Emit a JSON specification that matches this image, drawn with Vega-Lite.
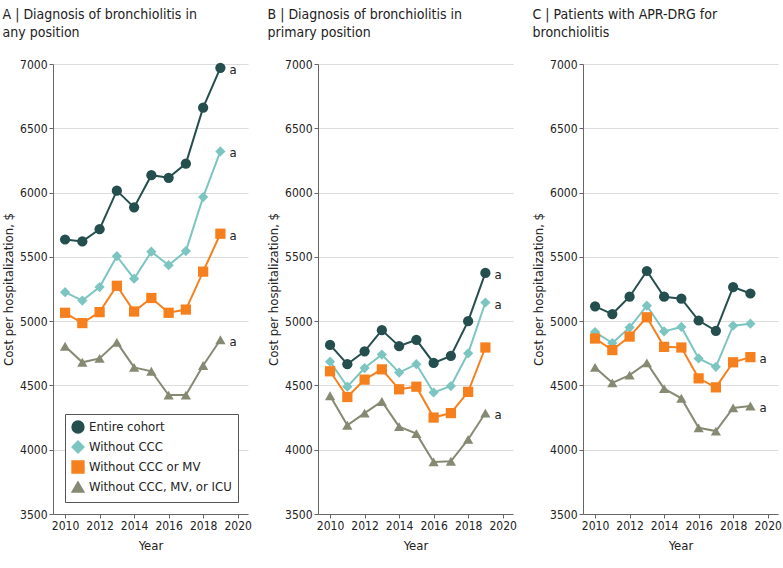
{
  "$schema": "https://vega.github.io/schema/vega-lite/v6.json",
  "padding": {"left": 2, "top": 8, "right": 2, "bottom": 2},
  "config": {
    "font": "DejaVu Sans Condensed, sans-serif",
    "view": {"stroke": null},
    "axis": {"labelFontSize": 12, "titleFontSize": 13, "titleFontWeight": "normal", "labelColor": "#222", "titleColor": "#222", "domainColor": "#666", "tickColor": "#666", "tickSize": 4, "labelPadding": 2},
    "title": {"fontSize": 14, "fontWeight": "normal", "anchor": "start", "frame": "bounds", "color": "#222", "offset": 18, "lineHeight": 18},
    "legend": {"labelFontSize": 13, "labelColor": "#222", "strokeColor": "#555", "fillColor": "white", "padding": 6, "symbolSize": 140, "rowPadding": 2},
    "concat": {"spacing": 15}
  },
  "datasets": {
    "d": [
      {"panel":"A","year":2010,"group":"Entire cohort","cost":5635,"sig":""},
      {"panel":"A","year":2011,"group":"Entire cohort","cost":5620,"sig":""},
      {"panel":"A","year":2012,"group":"Entire cohort","cost":5715,"sig":""},
      {"panel":"A","year":2013,"group":"Entire cohort","cost":6015,"sig":""},
      {"panel":"A","year":2014,"group":"Entire cohort","cost":5885,"sig":""},
      {"panel":"A","year":2015,"group":"Entire cohort","cost":6135,"sig":""},
      {"panel":"A","year":2016,"group":"Entire cohort","cost":6115,"sig":""},
      {"panel":"A","year":2017,"group":"Entire cohort","cost":6225,"sig":""},
      {"panel":"A","year":2018,"group":"Entire cohort","cost":6660,"sig":""},
      {"panel":"A","year":2019,"group":"Entire cohort","cost":6970,"sig":"a"},
      {"panel":"A","year":2010,"group":"Without CCC","cost":5225,"sig":""},
      {"panel":"A","year":2011,"group":"Without CCC","cost":5160,"sig":""},
      {"panel":"A","year":2012,"group":"Without CCC","cost":5265,"sig":""},
      {"panel":"A","year":2013,"group":"Without CCC","cost":5505,"sig":""},
      {"panel":"A","year":2014,"group":"Without CCC","cost":5330,"sig":""},
      {"panel":"A","year":2015,"group":"Without CCC","cost":5540,"sig":""},
      {"panel":"A","year":2016,"group":"Without CCC","cost":5435,"sig":""},
      {"panel":"A","year":2017,"group":"Without CCC","cost":5545,"sig":""},
      {"panel":"A","year":2018,"group":"Without CCC","cost":5965,"sig":""},
      {"panel":"A","year":2019,"group":"Without CCC","cost":6320,"sig":"a"},
      {"panel":"A","year":2010,"group":"Without CCC or MV","cost":5065,"sig":""},
      {"panel":"A","year":2011,"group":"Without CCC or MV","cost":4985,"sig":""},
      {"panel":"A","year":2012,"group":"Without CCC or MV","cost":5070,"sig":""},
      {"panel":"A","year":2013,"group":"Without CCC or MV","cost":5275,"sig":""},
      {"panel":"A","year":2014,"group":"Without CCC or MV","cost":5075,"sig":""},
      {"panel":"A","year":2015,"group":"Without CCC or MV","cost":5180,"sig":""},
      {"panel":"A","year":2016,"group":"Without CCC or MV","cost":5065,"sig":""},
      {"panel":"A","year":2017,"group":"Without CCC or MV","cost":5090,"sig":""},
      {"panel":"A","year":2018,"group":"Without CCC or MV","cost":5385,"sig":""},
      {"panel":"A","year":2019,"group":"Without CCC or MV","cost":5680,"sig":"a"},
      {"panel":"A","year":2010,"group":"Without CCC, MV, or ICU","cost":4805,"sig":""},
      {"panel":"A","year":2011,"group":"Without CCC, MV, or ICU","cost":4680,"sig":""},
      {"panel":"A","year":2012,"group":"Without CCC, MV, or ICU","cost":4710,"sig":""},
      {"panel":"A","year":2013,"group":"Without CCC, MV, or ICU","cost":4835,"sig":""},
      {"panel":"A","year":2014,"group":"Without CCC, MV, or ICU","cost":4640,"sig":""},
      {"panel":"A","year":2015,"group":"Without CCC, MV, or ICU","cost":4610,"sig":""},
      {"panel":"A","year":2016,"group":"Without CCC, MV, or ICU","cost":4425,"sig":""},
      {"panel":"A","year":2017,"group":"Without CCC, MV, or ICU","cost":4425,"sig":""},
      {"panel":"A","year":2018,"group":"Without CCC, MV, or ICU","cost":4655,"sig":""},
      {"panel":"A","year":2019,"group":"Without CCC, MV, or ICU","cost":4855,"sig":"a"},

      {"panel":"B","year":2010,"group":"Entire cohort","cost":4815,"sig":""},
      {"panel":"B","year":2011,"group":"Entire cohort","cost":4665,"sig":""},
      {"panel":"B","year":2012,"group":"Entire cohort","cost":4765,"sig":""},
      {"panel":"B","year":2013,"group":"Entire cohort","cost":4930,"sig":""},
      {"panel":"B","year":2014,"group":"Entire cohort","cost":4805,"sig":""},
      {"panel":"B","year":2015,"group":"Entire cohort","cost":4855,"sig":""},
      {"panel":"B","year":2016,"group":"Entire cohort","cost":4675,"sig":""},
      {"panel":"B","year":2017,"group":"Entire cohort","cost":4730,"sig":""},
      {"panel":"B","year":2018,"group":"Entire cohort","cost":5000,"sig":""},
      {"panel":"B","year":2019,"group":"Entire cohort","cost":5375,"sig":"a"},
      {"panel":"B","year":2010,"group":"Without CCC","cost":4685,"sig":""},
      {"panel":"B","year":2011,"group":"Without CCC","cost":4490,"sig":""},
      {"panel":"B","year":2012,"group":"Without CCC","cost":4635,"sig":""},
      {"panel":"B","year":2013,"group":"Without CCC","cost":4740,"sig":""},
      {"panel":"B","year":2014,"group":"Without CCC","cost":4600,"sig":""},
      {"panel":"B","year":2015,"group":"Without CCC","cost":4665,"sig":""},
      {"panel":"B","year":2016,"group":"Without CCC","cost":4445,"sig":""},
      {"panel":"B","year":2017,"group":"Without CCC","cost":4495,"sig":""},
      {"panel":"B","year":2018,"group":"Without CCC","cost":4750,"sig":""},
      {"panel":"B","year":2019,"group":"Without CCC","cost":5145,"sig":"a"},
      {"panel":"B","year":2010,"group":"Without CCC or MV","cost":4610,"sig":""},
      {"panel":"B","year":2011,"group":"Without CCC or MV","cost":4410,"sig":""},
      {"panel":"B","year":2012,"group":"Without CCC or MV","cost":4545,"sig":""},
      {"panel":"B","year":2013,"group":"Without CCC or MV","cost":4625,"sig":""},
      {"panel":"B","year":2014,"group":"Without CCC or MV","cost":4470,"sig":""},
      {"panel":"B","year":2015,"group":"Without CCC or MV","cost":4490,"sig":""},
      {"panel":"B","year":2016,"group":"Without CCC or MV","cost":4250,"sig":""},
      {"panel":"B","year":2017,"group":"Without CCC or MV","cost":4285,"sig":""},
      {"panel":"B","year":2018,"group":"Without CCC or MV","cost":4450,"sig":""},
      {"panel":"B","year":2019,"group":"Without CCC or MV","cost":4795,"sig":""},
      {"panel":"B","year":2010,"group":"Without CCC, MV, or ICU","cost":4420,"sig":""},
      {"panel":"B","year":2011,"group":"Without CCC, MV, or ICU","cost":4190,"sig":""},
      {"panel":"B","year":2012,"group":"Without CCC, MV, or ICU","cost":4285,"sig":""},
      {"panel":"B","year":2013,"group":"Without CCC, MV, or ICU","cost":4375,"sig":""},
      {"panel":"B","year":2014,"group":"Without CCC, MV, or ICU","cost":4180,"sig":""},
      {"panel":"B","year":2015,"group":"Without CCC, MV, or ICU","cost":4125,"sig":""},
      {"panel":"B","year":2016,"group":"Without CCC, MV, or ICU","cost":3905,"sig":""},
      {"panel":"B","year":2017,"group":"Without CCC, MV, or ICU","cost":3910,"sig":""},
      {"panel":"B","year":2018,"group":"Without CCC, MV, or ICU","cost":4080,"sig":""},
      {"panel":"B","year":2019,"group":"Without CCC, MV, or ICU","cost":4285,"sig":"a"},

      {"panel":"C","year":2010,"group":"Entire cohort","cost":5115,"sig":""},
      {"panel":"C","year":2011,"group":"Entire cohort","cost":5055,"sig":""},
      {"panel":"C","year":2012,"group":"Entire cohort","cost":5190,"sig":""},
      {"panel":"C","year":2013,"group":"Entire cohort","cost":5390,"sig":""},
      {"panel":"C","year":2014,"group":"Entire cohort","cost":5190,"sig":""},
      {"panel":"C","year":2015,"group":"Entire cohort","cost":5175,"sig":""},
      {"panel":"C","year":2016,"group":"Entire cohort","cost":5005,"sig":""},
      {"panel":"C","year":2017,"group":"Entire cohort","cost":4925,"sig":""},
      {"panel":"C","year":2018,"group":"Entire cohort","cost":5265,"sig":""},
      {"panel":"C","year":2019,"group":"Entire cohort","cost":5215,"sig":""},
      {"panel":"C","year":2010,"group":"Without CCC","cost":4915,"sig":""},
      {"panel":"C","year":2011,"group":"Without CCC","cost":4830,"sig":""},
      {"panel":"C","year":2012,"group":"Without CCC","cost":4950,"sig":""},
      {"panel":"C","year":2013,"group":"Without CCC","cost":5120,"sig":""},
      {"panel":"C","year":2014,"group":"Without CCC","cost":4920,"sig":""},
      {"panel":"C","year":2015,"group":"Without CCC","cost":4955,"sig":""},
      {"panel":"C","year":2016,"group":"Without CCC","cost":4710,"sig":""},
      {"panel":"C","year":2017,"group":"Without CCC","cost":4645,"sig":""},
      {"panel":"C","year":2018,"group":"Without CCC","cost":4965,"sig":""},
      {"panel":"C","year":2019,"group":"Without CCC","cost":4980,"sig":""},
      {"panel":"C","year":2010,"group":"Without CCC or MV","cost":4865,"sig":""},
      {"panel":"C","year":2011,"group":"Without CCC or MV","cost":4775,"sig":""},
      {"panel":"C","year":2012,"group":"Without CCC or MV","cost":4880,"sig":""},
      {"panel":"C","year":2013,"group":"Without CCC or MV","cost":5030,"sig":""},
      {"panel":"C","year":2014,"group":"Without CCC or MV","cost":4800,"sig":""},
      {"panel":"C","year":2015,"group":"Without CCC or MV","cost":4795,"sig":""},
      {"panel":"C","year":2016,"group":"Without CCC or MV","cost":4555,"sig":""},
      {"panel":"C","year":2017,"group":"Without CCC or MV","cost":4485,"sig":""},
      {"panel":"C","year":2018,"group":"Without CCC or MV","cost":4680,"sig":""},
      {"panel":"C","year":2019,"group":"Without CCC or MV","cost":4720,"sig":"a"},
      {"panel":"C","year":2010,"group":"Without CCC, MV, or ICU","cost":4640,"sig":""},
      {"panel":"C","year":2011,"group":"Without CCC, MV, or ICU","cost":4520,"sig":""},
      {"panel":"C","year":2012,"group":"Without CCC, MV, or ICU","cost":4580,"sig":""},
      {"panel":"C","year":2013,"group":"Without CCC, MV, or ICU","cost":4675,"sig":""},
      {"panel":"C","year":2014,"group":"Without CCC, MV, or ICU","cost":4475,"sig":""},
      {"panel":"C","year":2015,"group":"Without CCC, MV, or ICU","cost":4400,"sig":""},
      {"panel":"C","year":2016,"group":"Without CCC, MV, or ICU","cost":4170,"sig":""},
      {"panel":"C","year":2017,"group":"Without CCC, MV, or ICU","cost":4145,"sig":""},
      {"panel":"C","year":2018,"group":"Without CCC, MV, or ICU","cost":4325,"sig":""},
      {"panel":"C","year":2019,"group":"Without CCC, MV, or ICU","cost":4340,"sig":"a"}
    ]
  },
  "data": {"name": "d"},
  "resolve": {"scale": {"color": "independent", "shape": "independent"}, "legend": {"color": "independent", "shape": "independent"}},
  "hconcat": [
    {
      "width": 195, "height": 450,
      "title": {"text": ["A | Diagnosis of bronchiolitis in", "\u00a0\u00a0\u00a0\u00a0\u00a0\u00a0any position"]},
      "transform": [{"filter": "datum.panel === 'A'"}],
      "encoding": {
        "x": {"field": "year", "type": "quantitative", "scale": {"domain": [2009.3, 2020.6], "nice": false, "zero": false}, "axis": {"values": [2010, 2012, 2014, 2016, 2018, 2020], "format": "d", "grid": false, "title": "Year", "titlePadding": 8}},
        "y": {"field": "cost", "type": "quantitative", "scale": {"domain": [3500, 7000], "nice": false, "zero": false}, "axis": {"values": [3500, 4000, 4500, 5000, 5500, 6000, 6500, 7000], "format": "d", "grid": true, "gridColor": "#dcdcdc", "title": "Cost per hospitalization, $", "titlePadding": 4}}
      },
      "layer": [
        {"mark": {"type": "line", "strokeWidth": 2}, "encoding": {"color": {"field": "group", "type": "nominal", "scale": {"domain": ["Entire cohort", "Without CCC", "Without CCC or MV", "Without CCC, MV, or ICU"], "range": ["#244f4e", "#7cc5c1", "#f7801e", "#878a73"]}, "legend": {"title": null, "orient": "bottom-left", "offset": 12}}}},
        {"mark": {"type": "point", "filled": true, "size": 105, "opacity": 1}, "encoding": {"color": {"field": "group", "type": "nominal", "legend": {"title": null, "orient": "bottom-left", "offset": 12}}, "shape": {"field": "group", "type": "nominal", "scale": {"domain": ["Entire cohort", "Without CCC", "Without CCC or MV", "Without CCC, MV, or ICU"], "range": ["circle", "diamond", "square", "triangle-up"]}, "legend": {"title": null, "orient": "bottom-left", "offset": 12}}}},
        {"transform": [{"filter": "datum.sig === 'a'"}], "mark": {"type": "text", "align": "left", "dx": 9, "dy": 2, "fontSize": 13, "color": "#222"}, "encoding": {"text": {"field": "sig"}}}
      ]
    },
    {
      "width": 195, "height": 450,
      "title": {"text": ["B | Diagnosis of bronchiolitis in", "\u00a0\u00a0\u00a0\u00a0\u00a0\u00a0primary position"]},
      "transform": [{"filter": "datum.panel === 'B'"}],
      "encoding": {
        "x": {"field": "year", "type": "quantitative", "scale": {"domain": [2009.3, 2020.6], "nice": false, "zero": false}, "axis": {"values": [2010, 2012, 2014, 2016, 2018, 2020], "format": "d", "grid": false, "title": "Year", "titlePadding": 8}},
        "y": {"field": "cost", "type": "quantitative", "scale": {"domain": [3500, 7000], "nice": false, "zero": false}, "axis": {"values": [3500, 4000, 4500, 5000, 5500, 6000, 6500, 7000], "format": "d", "grid": true, "gridColor": "#dcdcdc", "title": "Cost per hospitalization, $", "titlePadding": 4}}
      },
      "layer": [
        {"mark": {"type": "line", "strokeWidth": 2}, "encoding": {"color": {"field": "group", "type": "nominal", "scale": {"domain": ["Entire cohort", "Without CCC", "Without CCC or MV", "Without CCC, MV, or ICU"], "range": ["#244f4e", "#7cc5c1", "#f7801e", "#878a73"]}, "legend": null}}},
        {"mark": {"type": "point", "filled": true, "size": 105, "opacity": 1}, "encoding": {"color": {"field": "group", "type": "nominal", "legend": null}, "shape": {"field": "group", "type": "nominal", "scale": {"domain": ["Entire cohort", "Without CCC", "Without CCC or MV", "Without CCC, MV, or ICU"], "range": ["circle", "diamond", "square", "triangle-up"]}, "legend": null}}},
        {"transform": [{"filter": "datum.sig === 'a'"}], "mark": {"type": "text", "align": "left", "dx": 9, "dy": 2, "fontSize": 13, "color": "#222"}, "encoding": {"text": {"field": "sig"}}}
      ]
    },
    {
      "width": 195, "height": 450,
      "title": {"text": ["C | Patients with APR-DRG for", "\u00a0\u00a0\u00a0\u00a0\u00a0\u00a0bronchiolitis"]},
      "transform": [{"filter": "datum.panel === 'C'"}],
      "encoding": {
        "x": {"field": "year", "type": "quantitative", "scale": {"domain": [2009.3, 2020.6], "nice": false, "zero": false}, "axis": {"values": [2010, 2012, 2014, 2016, 2018, 2020], "format": "d", "grid": false, "title": "Year", "titlePadding": 8}},
        "y": {"field": "cost", "type": "quantitative", "scale": {"domain": [3500, 7000], "nice": false, "zero": false}, "axis": {"values": [3500, 4000, 4500, 5000, 5500, 6000, 6500, 7000], "format": "d", "grid": true, "gridColor": "#dcdcdc", "title": "Cost per hospitalization, $", "titlePadding": 4}}
      },
      "layer": [
        {"mark": {"type": "line", "strokeWidth": 2}, "encoding": {"color": {"field": "group", "type": "nominal", "scale": {"domain": ["Entire cohort", "Without CCC", "Without CCC or MV", "Without CCC, MV, or ICU"], "range": ["#244f4e", "#7cc5c1", "#f7801e", "#878a73"]}, "legend": null}}},
        {"mark": {"type": "point", "filled": true, "size": 105, "opacity": 1}, "encoding": {"color": {"field": "group", "type": "nominal", "legend": null}, "shape": {"field": "group", "type": "nominal", "scale": {"domain": ["Entire cohort", "Without CCC", "Without CCC or MV", "Without CCC, MV, or ICU"], "range": ["circle", "diamond", "square", "triangle-up"]}, "legend": null}}},
        {"transform": [{"filter": "datum.sig === 'a'"}], "mark": {"type": "text", "align": "left", "dx": 9, "dy": 2, "fontSize": 13, "color": "#222"}, "encoding": {"text": {"field": "sig"}}}
      ]
    }
  ]
}
